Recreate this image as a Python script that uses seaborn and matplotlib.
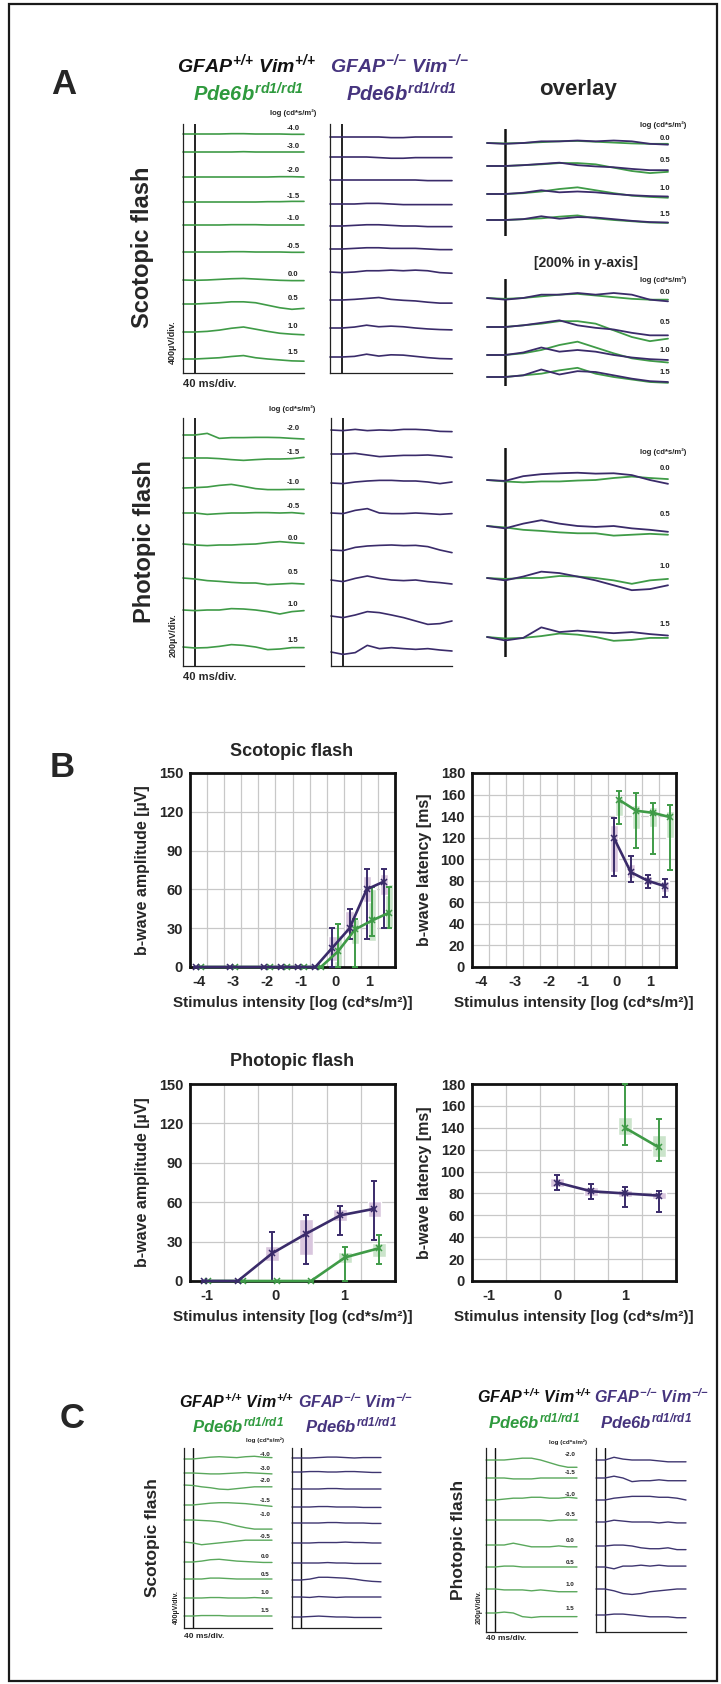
import numpy as np
import seaborn as sns
import matplotlib.pyplot as plt
from matplotlib import font_manager
from matplotlib.patches import Rectangle

sns.set_style("white")
_names = {f.name for f in font_manager.fontManager.ttflist}
NARROW = 'Liberation Sans Narrow' if 'Liberation Sans Narrow' in _names else 'Liberation Sans'
plt.rcParams['font.family'] = ['Liberation Sans', 'DejaVu Sans']
plt.rcParams['axes.unicode_minus'] = False
plt.rcParams['mathtext.fontset'] = 'custom'
plt.rcParams['mathtext.it'] = NARROW + ':italic:bold'
plt.rcParams['mathtext.rm'] = NARROW + ':italic:bold'
plt.rcParams['mathtext.bf'] = NARROW + ':italic:bold'

GREEN = '#3f9b47'
PURPLE = '#3a2b6a'
HDR_GREEN = '#2f9a3e'
HDR_PURPLE = '#46347e'
LIGHT_P = '#d9c6de'
LIGHT_G = '#cbe4cb'

# ---------------- data ----------------
# ERG traces, sampled every 40 ms (flash at 0 ms), deflection in uV
T = [-40, 0, 40, 80, 120, 160, 200, 240, 280, 320, 360]
scot_levels = ['-4.0', '-3.0', '-2.0', '-1.5', '-1.0', '-0.5', '0.0', '0.5', '1.0', '1.5']
phot_levels = ['-2.0', '-1.5', '-1.0', '-0.5', '0.0', '0.5', '1.0', '1.5']

# A, scotopic, GFAP+/+ Vim+/+ (green)
scot_wt = [
    [0, 0, 0, 0, 5, 5, 0, 0, 0, -5, -5],
    [0, 0, 0, 0, 0, 5, 0, 0, 0, 0, 0],
    [0, 0, 0, 0, 0, 0, 0, 0, 5, 5, 0],
    [0, 0, 0, 0, 0, 0, 0, 5, 5, 10, 10],
    [0, 0, 0, 0, 5, 5, 5, 0, 0, 0, 0],
    [0, 0, 0, 0, 5, 5, 0, 0, 0, -5, -5],
    [0, -5, 0, 10, 20, 25, 15, 5, -5, -10, -10],
    [0, 0, 10, 20, 35, 35, 20, -20, -60, -85, -70],
    [0, 0, 10, 30, 60, 80, 45, 10, -20, -35, -45],
    [0, 0, 10, 20, 40, 55, 20, 0, -15, -30, -35],
]
# A, scotopic, GFAP-/- Vim-/- (purple)
scot_ko = [
    [0, 0, 0, 0, 0, -10, -10, 0, 0, 0, 0],
    [0, 0, 0, 0, -10, -20, -20, -10, -10, -10, -10],
    [0, 0, 0, 0, 0, 0, 0, 0, -10, -10, -10],
    [0, 0, 0, 10, 10, 0, -10, -10, -10, -10, -10],
    [0, 0, 10, 20, 20, 10, 0, 0, -10, -10, -10],
    [0, 0, 10, 20, 20, 10, 10, 10, 0, -10, -10],
    [0, -10, 0, 20, 20, 30, 20, 30, 20, -10, -20],
    [0, 0, 10, 25, 40, 10, -5, -15, -35, -50, -50],
    [0, 0, 15, 45, 20, 30, 20, 0, -15, -25, -30],
    [0, 0, 10, 45, 15, 35, 30, 10, -10, -25, -30],
]
# A, photopic
phot_wt = [
    [0, 0, 13, -27, -21, -21, -19, -19, -21, -27, -32],
    [0, 0, 0, -5, -13, -19, -13, -8, -8, -5, 5],
    [0, 3, 8, 21, 29, 13, -5, -13, -13, -11, -11],
    [0, 0, -11, -5, 0, 0, 3, 3, 0, 3, -5],
    [0, -8, -13, -8, -8, -3, 0, 11, 19, 11, 5],
    [0, -8, -21, -27, -35, -40, -40, -53, -48, -43, -48],
    [0, -5, 0, 0, 11, 8, 0, -13, -32, -13, -5],
    [0, -8, -5, 5, 19, 13, 0, -21, -16, -5, -5],
]
phot_ko = [
    [0, -5, 5, -5, 0, -3, 5, 5, 0, -11, -13],
    [0, 0, 5, -8, -21, -16, -11, -11, -8, -16, -27],
    [0, -5, 8, 16, 21, 21, 16, 16, 8, -5, 8],
    [0, -5, 21, 35, 0, -5, -5, 0, -5, -11, -5],
    [0, -5, 21, 32, 37, 40, 35, 37, 27, 0, -21],
    [0, -13, 13, 32, 13, 0, -5, 0, -13, -21, -32],
    [0, -13, 8, 35, 27, 8, -13, -40, -67, -61, -40],
    [0, -19, -5, 53, 27, 35, 27, 21, 27, 16, 8],
]
# C traces
c_scot_wt = [
    [0, 0, 20, 40, 50, 40, 30, 50, 60, 40, 30],
    [0, 0, -10, -20, -20, -10, 0, 10, 0, -10, -20],
    [0, -10, -40, -60, -90, -100, -80, -60, -40, -40, -40],
    [0, 0, 20, 40, 50, 50, 40, 30, 10, -10, -30],
    [0, 0, -10, -20, -40, -80, -130, -170, -200, -200, -200],
    [0, -20, -60, -40, -20, 0, 20, 40, 40, 40, 40],
    [0, 0, 20, 50, 60, 40, 20, 10, 0, -10, -10],
    [0, 0, 0, 20, 20, 10, 0, 0, 0, 0, 0],
    [0, 0, 0, 10, 10, 0, 0, 0, 10, 0, 0],
    [0, 0, 10, 10, 10, 0, 0, 0, 0, 0, 0],
]
c_scot_ko = [
    [0, 0, 0, 10, 20, 20, 10, 0, 10, 10, 10],
    [0, 0, 10, 10, 0, 0, 10, 10, 0, -10, -10],
    [0, 0, 0, 0, 10, 10, 0, 0, 0, 0, 0],
    [0, 0, 0, 10, 10, 0, 0, 0, -10, -10, -10],
    [0, 0, 0, 0, 10, 10, 0, 0, 0, -10, -10],
    [0, 0, 0, 10, 10, 10, 20, 10, 10, 0, 0],
    [0, 0, 0, 0, 10, 0, 0, -10, -10, -10, -10],
    [0, 0, 20, 60, 60, 50, 40, 20, -10, -30, -40],
    [0, 0, -10, 10, 0, -10, 0, 0, 0, 0, 0],
    [0, 0, 10, 20, 10, 0, 0, -10, -10, -10, -10],
]
c_phot_wt = [
    [0, 0, 0, 10, 20, 20, 0, -30, -60, -80, -80],
    [0, 0, 0, -10, -10, -10, 0, 0, 0, 0, 0],
    [0, 0, 10, 20, 20, 30, 30, 20, 20, 30, 20],
    [0, 0, 0, 0, 0, 0, 0, -10, 0, 0, 0],
    [0, 0, 0, 20, 0, -20, -20, -20, -10, -20, -20],
    [0, 0, 10, 10, 0, 0, 0, 0, 0, 0, 0],
    [0, 0, -10, -10, -10, -20, -10, -20, -30, -30, -30],
    [0, 0, 10, 0, -40, -50, -40, -40, -40, -40, -40],
]
c_phot_ko = [
    [0, 0, 30, 10, 0, 0, 0, -10, -20, -20, -20],
    [0, 0, 20, 0, -40, -30, -30, -20, -30, -30, -30],
    [0, 0, 20, 30, 40, 40, 40, 30, 30, 20, 0],
    [0, 0, 20, 10, 0, 0, 0, -10, 0, -10, -10],
    [0, 0, 10, 10, 0, -20, -30, -30, -20, -40, -40],
    [0, 0, -20, 10, 10, 20, 10, 20, 10, 10, 10],
    [0, 0, -20, -50, -60, -50, -30, -20, -10, 0, 0],
    [0, 0, 10, 10, 0, -10, -20, -20, -20, -30, -30],
]

# B: b-wave amplitude / latency (mean, whisker low/high, box low/high)
scot_x = [-4, -3, -2, -1.5, -1, -0.5, 0, 0.5, 1, 1.5]
scot_amp_ko = [0, 0, 0, 0, 0, 0, 15, 30, 60, 66]
scot_amp_ko_w = ([0, 0, 0, 0, 0, 0, 0, 22, 22, 30], [0, 0, 0, 0, 0, 0, 30, 45, 76, 76])
scot_amp_ko_b = ([0, 0, 0, 0, 0, 0, 5, 26, 50, 56], [0, 0, 0, 0, 0, 0, 24, 43, 70, 72])
scot_amp_wt = [0, 0, 0, 0, 0, 0, 12, 29, 36, 42]
scot_amp_wt_w = ([0, 0, 0, 0, 0, 0, 0, 0, 24, 30], [0, 0, 0, 0, 0, 0, 33, 37, 62, 62])
scot_amp_wt_b = ([0, 0, 0, 0, 0, 0, 0, 18, 20, 30], [0, 0, 0, 0, 0, 0, 25, 37, 60, 64])

lat_x = [0, 0.5, 1, 1.5]
scot_lat_ko = [120, 88, 80, 75]
scot_lat_ko_w = ([84, 79, 73, 65], [138, 103, 85, 82])
scot_lat_ko_b = ([88, 83, 76, 70], [132, 96, 84, 80])
scot_lat_wt = [155, 145, 143, 139]
scot_lat_wt_w = ([133, 110, 105, 90], [163, 161, 152, 150])
scot_lat_wt_b = ([140, 128, 130, 120], [158, 150, 148, 145])

phot_x = [-1, -0.5, 0, 0.5, 1, 1.5]
phot_amp_ko = [0, 0, 21, 36, 50, 55]
phot_amp_ko_w = ([0, 0, 0, 13, 35, 31], [0, 0, 37, 50, 57, 76])
phot_amp_ko_b = ([0, 0, 15, 20, 46, 49], [0, 0, 27, 47, 55, 61])
phot_amp_wt = [0, 0, 0, 0, 18, 25]
phot_amp_wt_w = ([0, 0, 0, 0, 0, 13], [0, 0, 0, 0, 26, 35])
phot_amp_wt_b = ([0, 0, 0, 0, 14, 18], [0, 0, 0, 0, 22, 29])

phot_lat_ko = [90, 82, 80, 78]
phot_lat_ko_w = ([83, 75, 68, 63], [97, 89, 86, 82])
phot_lat_ko_b = ([86, 78, 77, 75], [94, 86, 83, 81])
phot_lat_wt_x = [1, 1.5]
phot_lat_wt = [140, 122]
phot_lat_wt_w = ([124, 110], [180, 148])
phot_lat_wt_b = ([133, 113], [150, 133])

# ---------------- figure ----------------
W, H = 721, 1684
fig = plt.figure(figsize=(W / 100, H / 100), dpi=100)
fig.patches.append(Rectangle((9 / W, 1 - 1681 / H), 708 / W, 1677 / H, transform=fig.transFigure,
                             fill=False, lw=1.6, ec='#1a1a1a'))


def ftext(x, y, s, **kw):
    return fig.text(x / W, 1 - y / H, s, **kw)


def trace_axes(box, uvpp, div=None, flash_lw=1.3):
    x0, y0, x1, y1 = box
    ax = fig.add_axes([x0 / W, 1 - y1 / H, (x1 - x0) / W, (y1 - y0) / H])
    ax.set_xlim(-40, 360)
    ax.set_ylim(0, (y1 - y0) * uvpp)
    ax.patch.set_alpha(0)
    for s in ['top', 'right']:
        ax.spines[s].set_visible(False)
    if div:
        for s in ['left', 'bottom']:
            ax.spines[s].set_linewidth(0.9)
            ax.spines[s].set_color('#222222')
        ax.set_xticks(T)
        ax.set_yticks(np.arange(0, (y1 - y0) * uvpp, div))
        ax.tick_params(direction='in', length=3, width=0.7, labelleft=False, labelbottom=False)
    else:
        ax.spines['left'].set_visible(False)
        ax.spines['bottom'].set_visible(False)
        ax.set_xticks([])
        ax.set_yticks([])
    ax.axvline(0, color='#111111', lw=flash_lw)
    return ax


def draw_traces(ax, box, uvpp, levels_px, traces, color, lw=1.2):
    for lvl, vals in zip(levels_px, traces):
        base = (box[3] - lvl) * uvpp
        sns.lineplot(x=T, y=np.asarray(vals, float) + base, color=color, lw=lw, ax=ax, clip_on=False)


def level_labels(ax, box, uvpp, levels_px, labels, t, size, dy=6):
    for lvl, lab in zip(levels_px, labels):
        ax.text(t, (box[3] - lvl + dy) * uvpp, lab, ha='center', va='center',
                fontsize=size, fontweight='bold', family=NARROW, color='#222222')


small = dict(fontsize=5.5, fontweight='bold', family=NARROW, color='#222222', ha='center', va='center')

# ---- panel A ----
ftext(64, 84, 'A', fontsize=25, fontweight='bold', ha='center', va='center')
ftext(177, 72, r'$GFAP^{{+}/{+}}\ Vim^{{+}/{+}}$', fontsize=14, color='#111111', va='baseline')
ftext(330, 72, r'$GFAP^{{-}/{-}}\ Vim^{{-}/{-}}$', fontsize=14, color=HDR_PURPLE, va='baseline')
ftext(193, 101, r'$Pde6b^{rd1/rd1}$', fontsize=14.5, color=HDR_GREEN, va='baseline')
ftext(346, 101, r'$Pde6b^{rd1/rd1}$', fontsize=14.5, color=HDR_PURPLE, va='baseline')
ftext(578, 90, 'overlay', fontsize=16, fontweight='bold', ha='center', va='center')

box = (183, 124, 304, 373)
ax = trace_axes(box, 16, 400)
draw_traces(ax, box, 16, [134, 152, 177, 202, 225, 252, 280, 304, 332, 359], scot_wt, GREEN)
level_labels(ax, box, 16, [134, 152, 177, 202, 225, 252, 280, 304, 332, 359], scot_levels, 324, 5.5)
ftext(293, 113, 'log (cd*s/m²)', **small)

box = (330, 124, 452, 373)
ax = trace_axes(box, 16, 400)
draw_traces(ax, box, 16, [137, 157, 180, 204, 226, 249, 272, 300, 328, 357], scot_ko, PURPLE)

for box, uvpp, lv in [((487, 129, 668, 236), 12, [143, 166, 194, 220]),
                      ((487, 279, 668, 386), 6, [298, 327, 355, 377])]:
    ax = trace_axes(box, uvpp, flash_lw=1.8)
    draw_traces(ax, box, uvpp, lv, scot_wt[6:], GREEN, lw=1.3)
    draw_traces(ax, box, uvpp, lv, scot_ko[6:], PURPLE, lw=1.3)
    level_labels(ax, box, uvpp, lv, scot_levels[6:], 353, 5.5, dy=5)
ftext(663, 125, 'log (cd*s/m²)', **small)
ftext(663, 280, 'log (cd*s/m²)', **small)
ftext(586, 263, '[200% in y-axis]', fontsize=10, fontweight='bold', ha='center', va='center')

ftext(142, 247, 'Scotopic flash', fontsize=17, fontweight='bold', rotation=90, ha='center', va='center')
ftext(172, 342, '400µV/div.', fontsize=6.5, fontweight='bold', rotation=90, ha='center', va='center')
ftext(183, 384, '40 ms/div.', fontsize=8, fontweight='bold', ha='left', va='center')

box = (183, 418, 304, 666)
ax = trace_axes(box, 8, 200)
draw_traces(ax, box, 8, [435, 458, 488, 513, 544, 578, 610, 647], phot_wt, GREEN)
level_labels(ax, box, 8, [435, 458, 488, 513, 544, 578, 610, 647], phot_levels, 324, 5.5)
ftext(292, 409, 'log (cd*s/m²)', **small)

box = (331, 418, 452, 666)
ax = trace_axes(box, 8, 200)
draw_traces(ax, box, 8, [430, 454, 483, 513, 550, 580, 616, 652], phot_ko, PURPLE)

box = (487, 448, 668, 657)
ax = trace_axes(box, 5.5, flash_lw=1.8)
draw_traces(ax, box, 5.5, [480, 526, 578, 637], phot_wt[4:], GREEN, lw=1.3)
draw_traces(ax, box, 5.5, [480, 526, 578, 637], phot_ko[4:], PURPLE, lw=1.3)
level_labels(ax, box, 5.5, [480, 526, 578, 637], phot_levels[4:], 353, 5.5, dy=12)
ftext(663, 452, 'log (cd*s/m²)', **small)

ftext(145, 542, 'Photopic flash', fontsize=17, fontweight='bold', rotation=90, ha='center', va='center')
ftext(173, 635, '200µV/div.', fontsize=6.5, fontweight='bold', rotation=90, ha='center', va='center')
ftext(183, 677, '40 ms/div.', fontsize=8, fontweight='bold', ha='left', va='center')

# ---- panel B ----
ftext(62, 768, 'B', fontsize=25, fontweight='bold', ha='center', va='center')


def b_axes(box):
    x0, y0, x1, y1 = box
    return fig.add_axes([x0 / W, 1 - y1 / H, (x1 - x0) / W, (y1 - y0) / H])


def b_series(ax, x, mean, wl, bx, color, light, dx, bw):
    xs = np.asarray(x, float) + dx
    m = np.asarray(mean, float)
    lo, hi = np.asarray(bx[0], float), np.asarray(bx[1], float)
    ax.bar(xs, hi - lo, bottom=lo, width=bw, color=light, zorder=2, clip_on=False)
    ax.errorbar(xs, m, yerr=[m - np.asarray(wl[0], float), np.asarray(wl[1], float) - m],
                fmt='none', ecolor=color, elinewidth=1.4, capsize=2.5, capthick=1.4, zorder=3,
                clip_on=False)
    sns.lineplot(x=xs, y=m, color=color, lw=1.9, marker='x', markersize=4, mew=1.1, mec=color,
                 ax=ax, zorder=4, clip_on=False)


def b_style(ax, xlim, xticks, xgrid, ymax, ystep, ylabel):
    ax.set_xlim(*xlim)
    ax.set_ylim(0, ymax)
    ax.set_xticks(xticks)
    ax.set_xticklabels([str(v) for v in xticks])
    ax.set_xticks(xgrid, minor=True)
    ax.set_yticks(np.arange(0, ymax + 1, ystep))
    ax.grid(False)
    ax.grid(True, which='minor', axis='x', color='#c8c8c8', lw=0.9)
    ax.grid(True, which='major', axis='y', color='#c8c8c8', lw=0.9)
    ax.set_axisbelow(True)
    for s in ax.spines.values():
        s.set_visible(True)
        s.set_linewidth(2.0)
        s.set_color('#111111')
    ax.tick_params(axis='y', which='major', direction='out', length=3, width=1.2, pad=2, labelsize=10.5)
    ax.tick_params(axis='x', which='both', length=0, pad=6, labelsize=10.5)
    for lab in ax.get_xticklabels() + ax.get_yticklabels():
        lab.set_family(NARROW)
        lab.set_fontweight('bold')
    ax.set_xlabel('Stimulus intensity [log (cd*s/m²)]', fontsize=11, fontweight='bold',
                  family=NARROW, labelpad=5)
    ax.set_ylabel(ylabel, fontsize=11.5, fontweight='bold', family=NARROW, labelpad=6)


ftext(292, 752, 'Scotopic flash', fontsize=13, fontweight='bold', family=NARROW, ha='center', va='center')
ftext(292, 1062, 'Photopic flash', fontsize=13, fontweight='bold', family=NARROW, ha='center', va='center')

scot_grid = np.arange(-3.75, 1.6, 0.5)
phot_grid = np.arange(-0.75, 1.6, 0.5)

ax = b_axes((190, 773, 395, 967))
b_series(ax, scot_x, scot_amp_wt, scot_amp_wt_w, scot_amp_wt_b, GREEN, LIGHT_G, 0.08, 0.24)
b_series(ax, scot_x, scot_amp_ko, scot_amp_ko_w, scot_amp_ko_b, PURPLE, LIGHT_P, -0.08, 0.24)
b_style(ax, (-4.25, 1.75), [-4, -3, -2, -1, 0, 1], scot_grid, 150, 30, 'b-wave amplitude [µV]')

ax = b_axes((472, 773, 676, 967))
b_series(ax, lat_x, scot_lat_wt, scot_lat_wt_w, scot_lat_wt_b, GREEN, LIGHT_G, 0.08, 0.24)
b_series(ax, lat_x, scot_lat_ko, scot_lat_ko_w, scot_lat_ko_b, PURPLE, LIGHT_P, -0.08, 0.24)
b_style(ax, (-4.25, 1.75), [-4, -3, -2, -1, 0, 1], scot_grid, 180, 20, 'b-wave latency [ms]')

ax = b_axes((190, 1084, 395, 1281))
b_series(ax, phot_x, phot_amp_wt, phot_amp_wt_w, phot_amp_wt_b, GREEN, LIGHT_G, 0.02, 0.2)
b_series(ax, phot_x, phot_amp_ko, phot_amp_ko_w, phot_amp_ko_b, PURPLE, LIGHT_P, -0.05, 0.2)
b_style(ax, (-1.25, 1.75), [-1, 0, 1], phot_grid, 150, 30, 'b-wave amplitude [µV]')

ax = b_axes((472, 1084, 676, 1281))
b_series(ax, phot_lat_wt_x, phot_lat_wt, phot_lat_wt_w, phot_lat_wt_b, GREEN, LIGHT_G, 0.0, 0.2)
b_series(ax, lat_x, phot_lat_ko, phot_lat_ko_w, phot_lat_ko_b, PURPLE, LIGHT_P, 0.0, 0.2)
b_style(ax, (-1.25, 1.75), [-1, 0, 1], phot_grid, 180, 20, 'b-wave latency [ms]')

# ---- panel C ----
ftext(72, 1418, 'C', fontsize=25, fontweight='bold', ha='center', va='center')
ftext(179, 1408, r'$GFAP^{{+}/{+}}\ Vim^{{+}/{+}}$', fontsize=11.5, color='#111111', va='baseline')
ftext(298, 1408, r'$GFAP^{{-}/{-}}\ Vim^{{-}/{-}}$', fontsize=11.5, color=HDR_PURPLE, va='baseline')
ftext(192, 1432, r'$Pde6b^{rd1/rd1}$', fontsize=12, color=HDR_GREEN, va='baseline')
ftext(305, 1432, r'$Pde6b^{rd1/rd1}$', fontsize=12, color=HDR_PURPLE, va='baseline')
ftext(477, 1403, r'$GFAP^{{+}/{+}}\ Vim^{{+}/{+}}$', fontsize=11.5, color='#111111', va='baseline')
ftext(594, 1403, r'$GFAP^{{-}/{-}}\ Vim^{{-}/{-}}$', fontsize=11.5, color=HDR_PURPLE, va='baseline')
ftext(488, 1428, r'$Pde6b^{rd1/rd1}$', fontsize=12, color=HDR_GREEN, va='baseline')
ftext(600, 1428, r'$Pde6b^{rd1/rd1}$', fontsize=12, color=HDR_PURPLE, va='baseline')

tiny = dict(small, fontsize=4.5)
lv = [1459, 1473, 1485, 1505, 1520, 1542, 1562, 1579, 1598, 1616]
box = (184, 1448, 272, 1628)
ax = trace_axes(box, 22, 400, flash_lw=1.0)
draw_traces(ax, box, 22, lv, c_scot_wt, '#5aa85c', lw=1.0)
level_labels(ax, box, 22, lv, scot_levels, 328, 4.5, dy=5)
ftext(265, 1440, 'log (cd*s/m²)', **tiny)
box = (292, 1448, 381, 1628)
ax = trace_axes(box, 22, 400, flash_lw=1.0)
draw_traces(ax, box, 22, [1458, 1472, 1489, 1507, 1523, 1543, 1563, 1580, 1597, 1617], c_scot_ko,
            '#3e3570', lw=1.0)
ftext(153, 1538, 'Scotopic flash', fontsize=12.5, fontweight='bold', rotation=90, ha='center', va='center')
ftext(176, 1607, '400µV/div.', fontsize=5, fontweight='bold', rotation=90, ha='center', va='center')
ftext(184, 1637, '40 ms/div.', fontsize=6, fontweight='bold', ha='left', va='center')

lv = [1460, 1478, 1500, 1520, 1545, 1567, 1589, 1613]
box = (486, 1448, 577, 1632)
ax = trace_axes(box, 11, 200, flash_lw=1.0)
draw_traces(ax, box, 11, lv, c_phot_wt, '#5aa85c', lw=1.0)
level_labels(ax, box, 11, lv, phot_levels, 329, 4.5, dy=5)
ftext(568, 1442, 'log (cd*s/m²)', **tiny)
box = (596, 1448, 686, 1632)
ax = trace_axes(box, 11, 200, flash_lw=1.0)
draw_traces(ax, box, 11, [1460, 1478, 1500, 1522, 1546, 1567, 1589, 1615], c_phot_ko, '#3e3570', lw=1.0)
ftext(458, 1540, 'Photopic flash', fontsize=12.5, fontweight='bold', rotation=90, ha='center', va='center')
ftext(479, 1607, '200µV/div.', fontsize=5, fontweight='bold', rotation=90, ha='center', va='center')
ftext(486, 1638, '40 ms/div.', fontsize=6, fontweight='bold', ha='left', va='center')

fig.savefig('out.png', dpi=100, facecolor='white')
